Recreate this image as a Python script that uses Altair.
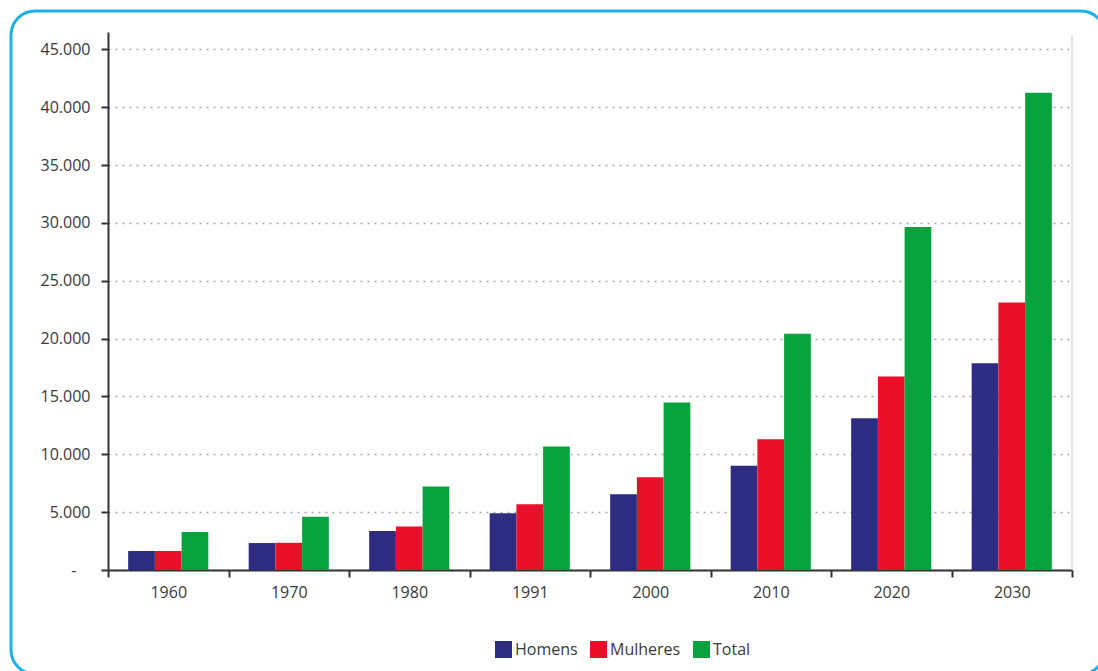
import altair as alt
import pandas as pd

# População por sexo (valores lidos em milhares de pessoas)
anos = ["1960", "1970", "1980", "1991", "2000", "2010", "2020", "2030"]
homens = [1640, 2330, 3370, 4900, 6550, 9020, 13120, 17880]
mulheres = [1640, 2350, 3750, 5680, 8020, 11300, 16720, 23120]
total = [3290, 4610, 7210, 10670, 14470, 20410, 29640, 41240]

series = ["Homens", "Mulheres", "Total"]
cores = ["#2d2c80", "#ea1029", "#05a23e"]
ticks_y = [0, 5000, 10000, 15000, 20000, 25000, 30000, 35000, 40000, 45000]

rows = []
for serie, valores in zip(series, [homens, mulheres, total]):
    for ano, v in zip(anos, valores):
        rows.append({"ano": ano, "serie": serie, "valor": v})
df = pd.DataFrame(rows)

W, H = 964, 538
FONT = "Open Sans"
TXT = "#3a3a3a"

bars = alt.Chart(df).mark_bar().encode(
    x=alt.X(
        "ano:N",
        sort=anos,
        scale=alt.Scale(paddingInner=0, paddingOuter=0),
        axis=alt.Axis(
            title=None,
            labelAngle=0,
            tickBand="extent",
            tickSize=7,
            tickWidth=2,
            tickColor="#333333",
            domainColor="#333333",
            domainWidth=2,
            labelFont=FONT,
            labelFontSize=16,
            labelColor=TXT,
            labelPadding=7,
            grid=False,
        ),
    ),
    # the gap between year groups comes from the outer padding of the offset scale
    xOffset=alt.XOffset(
        "serie:N", sort=series, scale=alt.Scale(paddingInner=0, paddingOuter=0.755)
    ),
    y=alt.Y(
        "valor:Q",
        scale=alt.Scale(domain=[0, 46500], nice=False),
        axis=alt.Axis(
            title=None,
            values=ticks_y,
            labelExpr="datum.value == 0 ? '-' : replace(format(datum.value, ','), ',', '.')",
            labelPadding=alt.condition("datum.value == 0", alt.value(25), alt.value(11)),
            tickSize=7,
            tickWidth=2,
            tickColor="#333333",
            domainColor="#333333",
            domainWidth=2,
            labelFont=FONT,
            labelFontSize=16,
            labelColor=TXT,
            grid=True,
            gridColor="#a8a8a8",
            gridDash=[2, 5],
            gridWidth=1.3,
        ),
    ),
    color=alt.Color(
        "serie:N",
        scale=alt.Scale(domain=series, range=cores),
        legend=alt.Legend(
            title=None,
            orient="none",
            legendX=387,
            legendY=609,
            direction="horizontal",
            symbolType="square",
            symbolSize=289,
            symbolStrokeWidth=0,
            labelOffset=3,
            columnPadding=12,
            labelFont=FONT,
            labelFontSize=16,
            labelColor=TXT,
        ),
    ),
)

# thin grey frame line on the right of the plot area
right_rule = alt.Chart(alt.Data(values=[{}])).mark_rule(
    color="#cfcfcf", strokeWidth=1
).encode(x=alt.value(W), y=alt.value(3), y2=alt.value(H))

# rounded cyan frame around the figure; its right and bottom sides run past the page edge
frame = alt.Chart(alt.Data(values=[{}])).mark_rect(
    filled=False, stroke="#1cb0ec", strokeWidth=3, cornerRadius=24
).encode(x=alt.value(-97), x2=alt.value(997), y=alt.value(-21), y2=alt.value(642))

chart = (
    alt.layer(frame, right_rule, bars)
    .properties(
        width=W,
        height=H,
        padding={"left": 108, "top": 32, "right": 26, "bottom": 101},
        autosize=alt.AutoSizeParams(type="none"),
        background="white",
    )
    .configure_view(stroke=None)
)

chart.save("out.html", embed_options={"renderer": "svg", "actions": False})
